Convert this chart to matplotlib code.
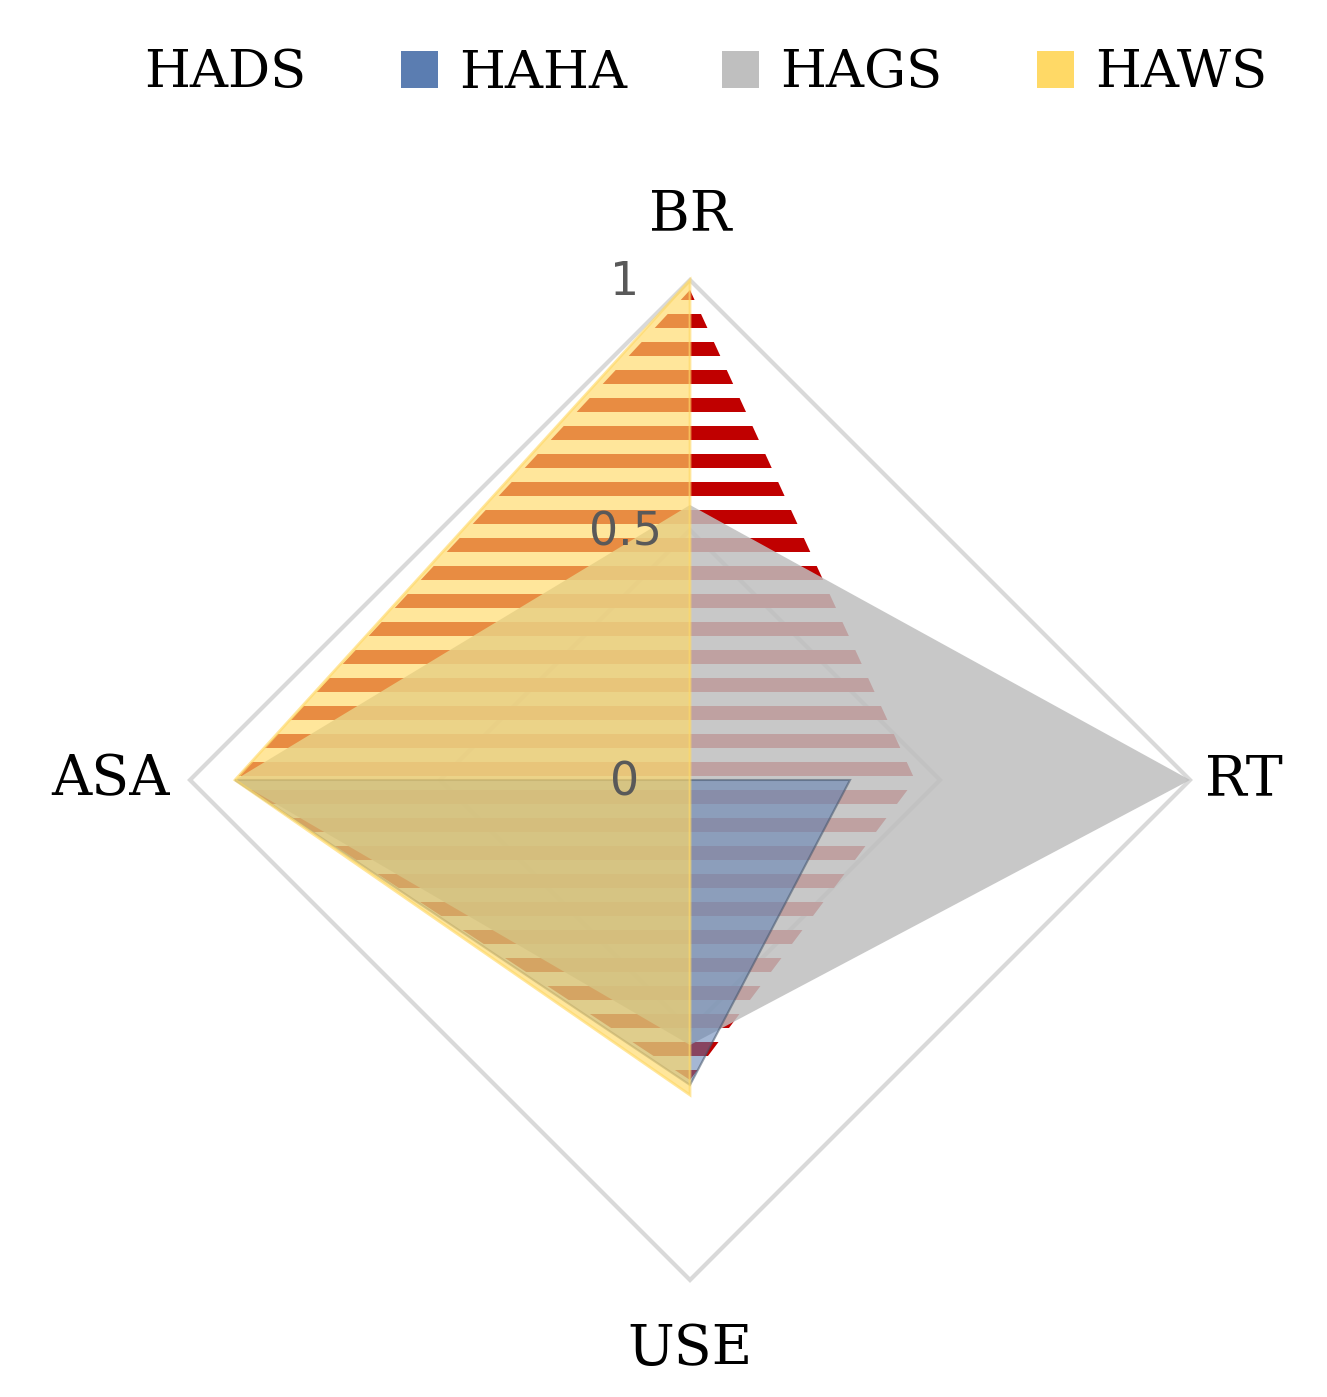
import numpy as np
import matplotlib
matplotlib.use("Agg")
import matplotlib.pyplot as plt
from matplotlib.patches import Polygon, Patch

plt.rcParams['hatch.linewidth'] = 7
plt.rcParams['hatch.color'] = "#C00000"

axes_labels = ["BR", "RT", "USE", "ASA"]
series_names = ["HADS", "HAHA", "HAGS", "HAWS"]
HADS = [0.98, 0.45, 0.60, 0.91]
HAHA = [0.0, 0.32, 0.61, 0.91]
HAGS = [0.55, 1.0, 0.53, 0.91]
HAWS = [1.0, 0.0, 0.63, 0.91]
ticks = [0, 0.5, 1]

ang = np.pi/2 - np.arange(4)*np.pi/2
def xy(vals):
    v = np.array(vals)
    return np.column_stack([v*np.cos(ang), v*np.sin(ang)])

fig = plt.figure(figsize=(13.27, 13.97), dpi=100)
ax = fig.add_axes([0, 0, 1, 1])
R = 500
ax.set_xlim(-690/R, (1327-690)/R)
ax.set_ylim(-(1397-780)/R, 780/R)
ax.axis("off")

for t in [0.5, 1.0]:
    ax.add_patch(Polygon(xy([t]*4), closed=True, fill=False, ec="#d9d9d9", lw=3, zorder=1))
for v in ticks:
    ax.text(-0.13, v - 0.005, str(v), ha="center", va="center", fontsize=33,
            color="#595959", family="DejaVu Sans", zorder=10)

poly = Polygon(xy(HADS), closed=True, fc="none", ec="none")
ax.add_patch(poly)
period = 0.056
ys = np.arange(-1.0, 1.0, period)
bars = ax.barh(ys, 2.2, left=-1.1, height=period*0.5, color="#C00000", zorder=2, align="edge")
for b in bars:
    b.set_clip_path(poly)

ax.add_patch(Polygon(xy(HAGS), closed=True, fc="#BFBFBF", alpha=0.85, ec="none", zorder=3))
ax.add_patch(Polygon(xy(HAHA), closed=True, fc="#5B7DB1", alpha=0.55, ec="#44546A", lw=1.5, zorder=4))
ax.add_patch(Polygon(xy(HAWS), closed=True, fc="#FFD966", alpha=0.65, ec="#FFD966", lw=2, zorder=5))

pos = [(0, 1.13, "center", "center"), (1.03, 0, "left", "center"),
       (0, -1.14, "center", "center"), (-1.04, 0, "right", "center")]
for lab, (x, y, ha, va) in zip(axes_labels, pos):
    ax.text(x, y, lab, ha=ha, va=va, fontsize=40, family="DejaVu Serif")

handles = [Patch(fc="white", hatch="-", ec="white", lw=0),
           Patch(fc="#5B7DB1"), Patch(fc="#BFBFBF"), Patch(fc="#FFD966")]
fig.legend(handles, series_names, loc="upper center", bbox_to_anchor=(0.51, 1.0),
           ncol=4, frameon=False, prop={"family": "DejaVu Serif", "size": 38},
           handlelength=0.7, handleheight=0.7, columnspacing=1.8, handletextpad=0.4)
fig.savefig("out.png", dpi=100)
